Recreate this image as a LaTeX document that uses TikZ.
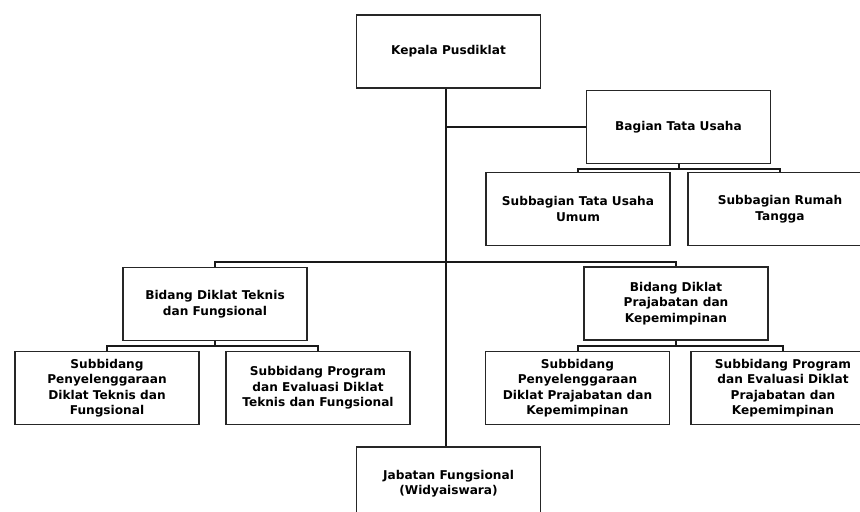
\documentclass[tikz,border=0pt]{standalone}
\usepackage{fontspec}
\setmainfont{DejaVu Sans}
\usetikzlibrary{calc}

\tikzset{
  orgbox/.style={draw=black!85,line width=1.2pt,fill=white,minimum width=138pt,minimum height=54.5pt,
    align=center,inner sep=2pt,font=\fontsize{9.1}{11.6}\selectfont\bfseries},
  link/.style={draw=black!90,line width=1.5pt}
}

\begin{document}
\begin{tikzpicture}[x=0.75pt,y=-0.75pt]
  \useasboundingbox (0,0) rectangle (860,511);
  \clip (0,0) rectangle (860,511);
  \node[orgbox] (kepala) at (448.5,51.5) {Kepala Pusdiklat};
  \node[orgbox] (btu) at (678.5,127) {Bagian Tata Usaha};
  \node[orgbox] (stuu) at (578,209) {Subbagian Tata Usaha\\Umum};
  \node[orgbox] (srt) at (780,209) {Subbagian Rumah\\Tangga};
  \node[orgbox] (btf) at (215,304) {Bidang Diklat Teknis\\dan Fungsional};
  \node[orgbox] (bpk) at (676,303.5) {Bidang Diklat\\Prajabatan dan\\Kepemimpinan};
  \node[orgbox] (sptf) at (107,388) {Subbidang\\Penyelenggaraan\\Diklat Teknis dan\\Fungsional};
  \node[orgbox] (spgtf) at (318,388) {Subbidang Program\\dan Evaluasi Diklat\\Teknis dan Fungsional};
  \node[orgbox] (sppk) at (577.5,388) {Subbidang\\Penyelenggaraan\\Diklat Prajabatan dan\\Kepemimpinan};
  \node[orgbox] (spgpk) at (783,388) {Subbidang Program\\dan Evaluasi Diklat\\Prajabatan dan\\Kepemimpinan};
  \node[orgbox] (jf) at (448.5,483.5) {Jabatan Fungsional\\(Widyaiswara)};
  \coordinate (spine) at (446,0);
  \coordinate (bar2) at (446,262);
  \draw[link] (kepala.south -| spine) -- (jf.north -| spine);
  \draw[link] (btu.west) -- (btu.west -| spine);
  \draw[link] (btf.north) |- (bar2) -| (bpk.north);
  \foreach \p/\c in {btu/stuu,btu/srt,btf/sptf,btf/spgtf,bpk/sppk,bpk/spgpk}
    \draw[link] (\p.south) -- ++(0,5) -| (\c.north);
\end{tikzpicture}
\end{document}
